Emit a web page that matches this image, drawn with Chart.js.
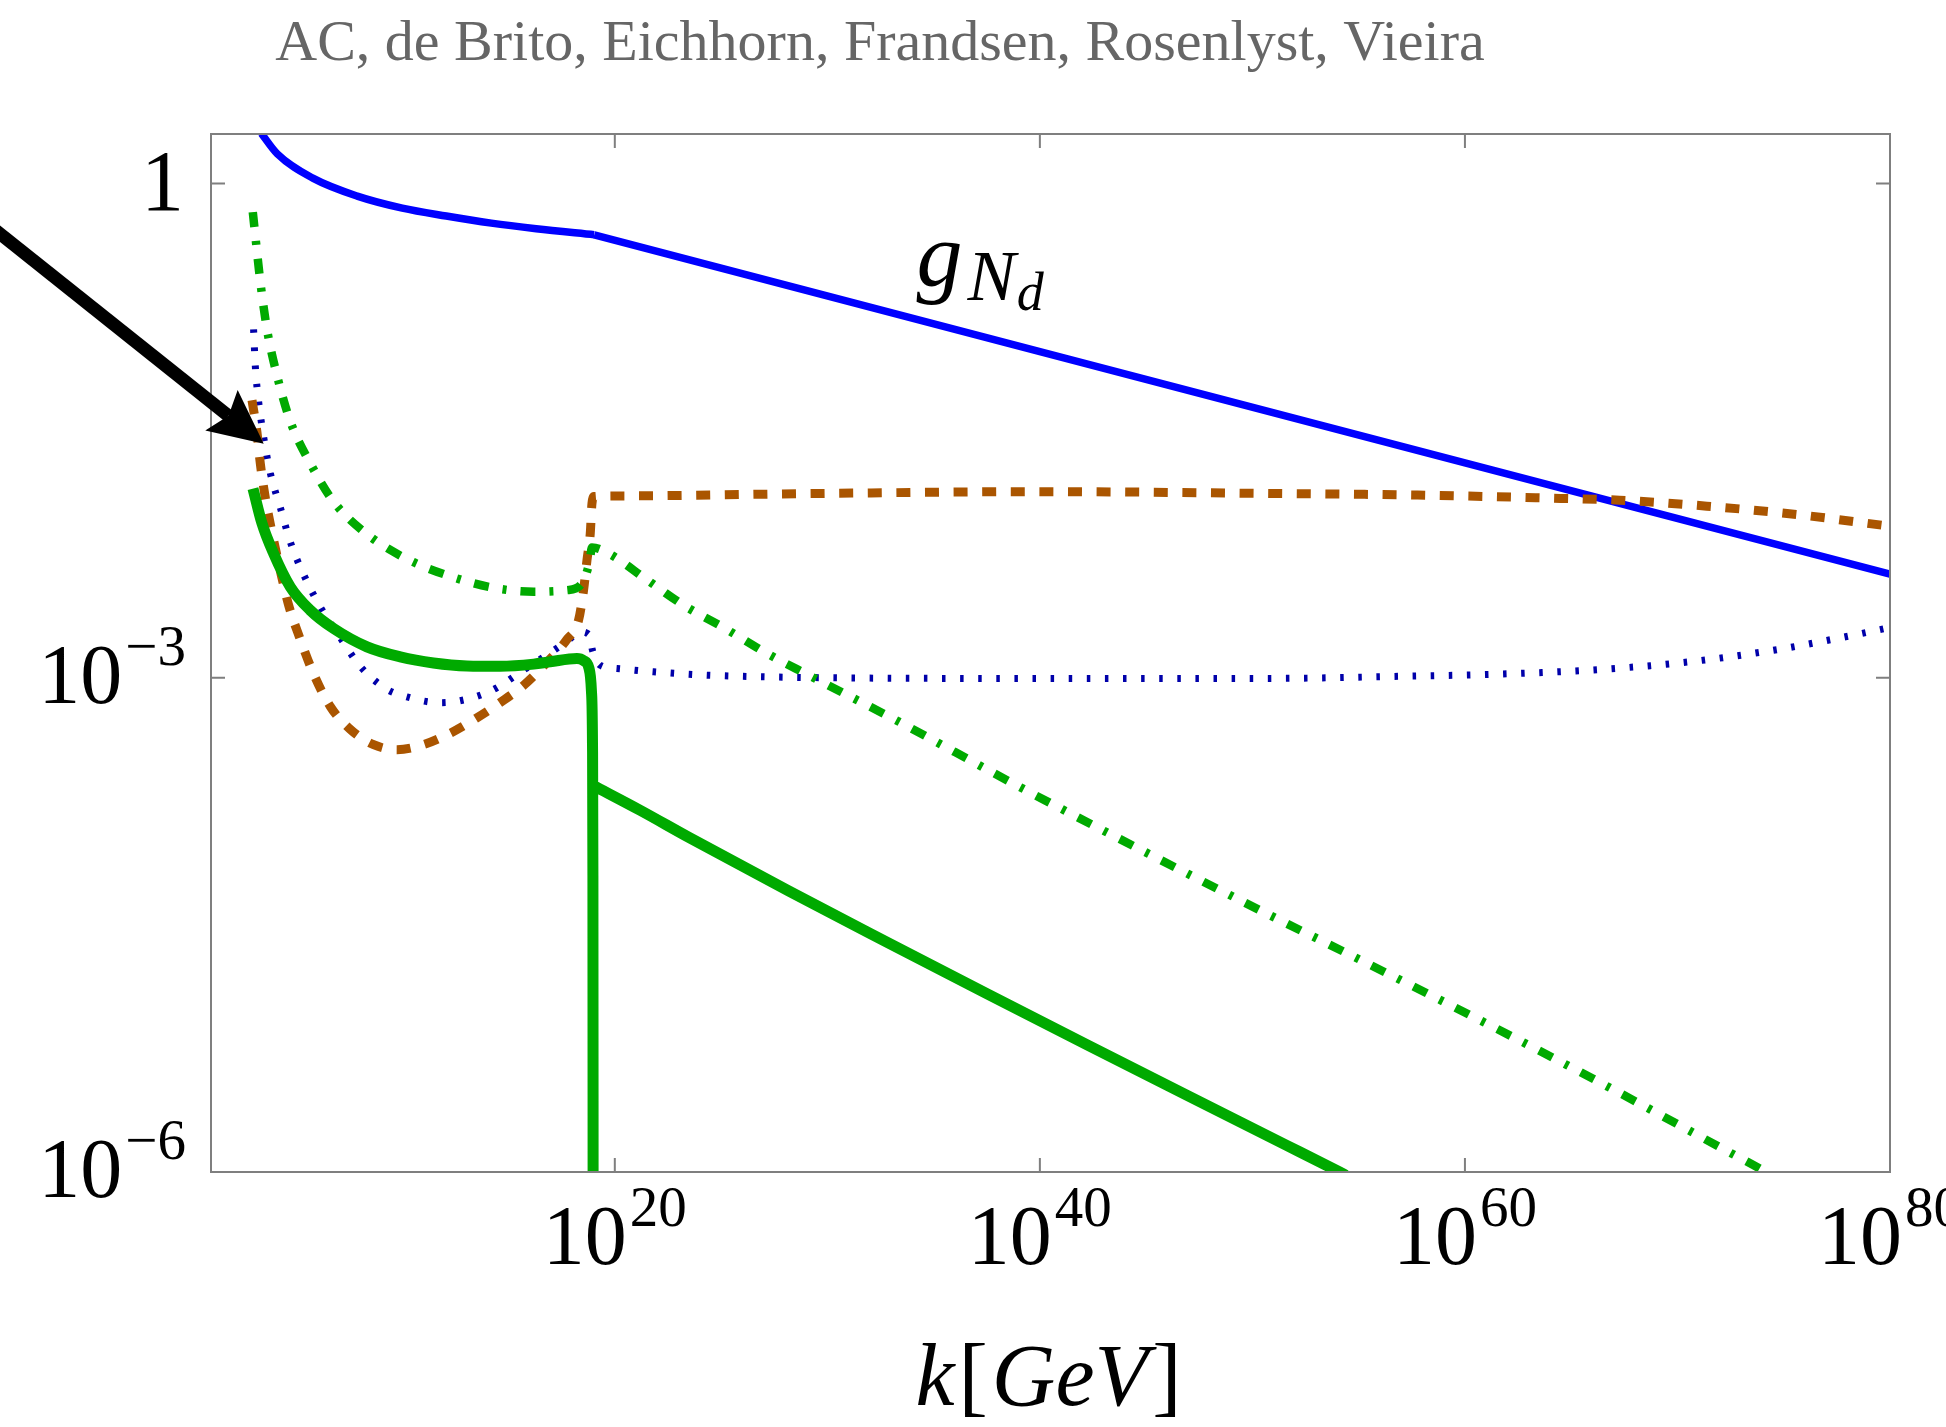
<!DOCTYPE html>
<html>
<head>
<meta charset="utf-8">
<script src="https://cdn.jsdelivr.net/npm/chart.js@4.4.1/dist/chart.umd.min.js"></script>
<style>
  html, body { margin: 0; padding: 0; background: #fff; }
  #wrap { width: 1946px; height: 1427px; }
</style>
</head>
<body>
<div id="wrap"><canvas id="chart"></canvas></div>
<script>
// every value below is a log10 exponent:
// x = log10(k / GeV), y = log10(coupling)
const xTicks = [20, 40, 60, 80]
const yTicks = [0, -3, -6]

// g_Nd, solid blue (curved up to the kink, straight after it)
const gNdX = [3.37, 4.12, 5.79, 7.88, 10.0, 12.07, 14.19, 16.3, 19.03, 40, 60, 80]
const gNdY = [0.304, 0.18, 0.033, -0.076, -0.149, -0.197, -0.240, -0.274, -0.311, -1.02, -1.695, -2.371]
const gNdKink = 8

// dotted dark blue
const dotX = [3.004, 3.084, 3.240, 3.475, 3.790, 4.260, 4.731, 5.357, 6.142, 7.083, 8.024, 9.280, 10.22, 11.71, 12.57, 14.14, 15.71, 16.96, 17.75, 18.375, 18.765, 18.97, 19.316, 20.10, 21.82, 24.34, 28.88, 39.36, 50.51, 57.36, 61.55, 66.30, 70.56, 74.74, 77.28, 80.0]
const dotY = [-0.885, -1.106, -1.322, -1.536, -1.757, -1.966, -2.175, -2.373, -2.570, -2.756, -2.931, -3.070, -3.116, -3.151, -3.143, -3.081, -2.953, -2.848, -2.779, -2.721, -2.735, -2.843, -2.924, -2.944, -2.964, -2.984, -2.998, -3.004, -3.004, -2.990, -2.978, -2.950, -2.903, -2.828, -2.767, -2.695]

// dashed brown
const dashX = [2.929, 3.164, 3.319, 3.555, 3.870, 4.260, 4.651, 5.201, 5.827, 6.613, 7.554, 8.650, 9.751, 11.00, 12.26, 13.51, 14.61, 15.71, 16.81, 17.75, 18.295, 18.53, 18.69, 18.845, 18.925, 19.03, 20.10, 29.67, 40.02, 50.93, 57.77, 64.50, 67.28, 71.38, 75.48, 80.0]
const dashY = [-1.315, -1.512, -1.698, -1.907, -2.117, -2.349, -2.558, -2.767, -2.976, -3.174, -3.313, -3.406, -3.437, -3.406, -3.336, -3.243, -3.150, -3.046, -2.906, -2.767, -2.650, -2.468, -2.286, -2.124, -1.942, -1.900, -1.896, -1.881, -1.870, -1.881, -1.891, -1.911, -1.922, -1.958, -2.007, -2.080]

// dash-dotted green
const ddX = [2.967, 3.084, 3.319, 3.635, 4.105, 4.731, 5.672, 6.768, 8.339, 10.22, 12.26, 14.30, 16.18, 17.75, 18.455, 18.81, 18.925, 19.706, 21.53, 23.235, 25.196, 27.158, 29.116, 33.077, 38.746, 44.627, 50.508, 54.474, 60.567, 66.448, 72.118, 74.01, 74.5]
const ddY = [-0.173, -0.316, -0.594, -0.885, -1.164, -1.443, -1.698, -1.931, -2.128, -2.279, -2.384, -2.454, -2.477, -2.468, -2.427, -2.296, -2.209, -2.245, -2.407, -2.559, -2.701, -2.852, -2.984, -3.247, -3.642, -4.036, -4.421, -4.674, -5.069, -5.463, -5.858, -5.99, -6.03]

// thick solid green (null = break in the line)
const thickX = [2.976, 3.40, 3.945, 4.73, 5.67, 6.77, 8.34, 9.906, 11.47, 13.04, 14.61, 16.18, 16.96, 18.22, 18.55, 18.78, 18.9, 18.95, 18.97, 18.98, 18.99, 19.0, 21.19, 23.53, 28.2, 32.89, 37.57, 42.25, 46.93, 51.61, 54.1, 54.4]
const thickY = [-1.851, -2.063, -2.245, -2.448, -2.590, -2.701, -2.812, -2.873, -2.910, -2.928, -2.930, -2.917, -2.903, -2.883, -2.897, -2.94, -3.08, -3.4, -4.2, -6.3, null, -3.655, -3.804, -3.972, -4.295, -4.610, -4.922, -5.230, -5.535, -5.838, -6.0, -6.02]

// arrow annotation, tail and tip (same log units)
const arrowFrom = [-9.5, -0.246]
const arrowTo = [3.48, -1.580]
const labelAt = [34.2, -0.62]

function pts(xs, ys) {
  return xs.map((v, i) => ({ x: 10 ** v, y: ys[i] === null ? null : 10 ** ys[i] }))
}

const serif = '"Liberation Serif", "DejaVu Serif", serif'
const frameColor = '#7f7f7f'

function drawPow(ctx, exp, px, baseline, align) {
  const baseFont = `84px ${serif}`
  const expFont = `57px ${serif}`
  ctx.font = baseFont
  const wb = ctx.measureText('10').width
  const es = exp < 0 ? '\u2212' + (-exp) : String(exp)
  ctx.font = expFont
  const we = ctx.measureText(es).width
  const total = wb + 3 + we
  const left = align === 'right' ? px - total : px - total / 2
  ctx.textAlign = 'left'
  ctx.font = baseFont
  ctx.fillText('10', left, baseline)
  ctx.font = expFont
  ctx.fillText(es, left + wb + 3, baseline - 38)
}

const decor = {
  id: 'decor',
  afterDatasetsDraw(chart) {
    const { ctx, chartArea: a, scales: { x, y } } = chart
    const px = (v) => x.getPixelForValue(10 ** v)
    const py = (v) => y.getPixelForValue(10 ** v)
    ctx.save()

    // frame and inward ticks
    ctx.strokeStyle = frameColor
    ctx.lineWidth = 2
    ctx.strokeRect(a.left, a.top, a.right - a.left, a.bottom - a.top)
    ctx.beginPath()
    xTicks.forEach((e) => {
      const p = px(e)
      if (p > a.right - 2) return
      ctx.moveTo(p, a.bottom); ctx.lineTo(p, a.bottom - 14)
      ctx.moveTo(p, a.top); ctx.lineTo(p, a.top + 14)
    })
    yTicks.forEach((e) => {
      const p = py(e)
      if (p > a.bottom - 2) return
      ctx.moveTo(a.left, p); ctx.lineTo(a.left + 14, p)
      ctx.moveTo(a.right, p); ctx.lineTo(a.right - 14, p)
    })
    ctx.stroke()

    // tick labels
    ctx.fillStyle = '#000'
    ctx.textBaseline = 'alphabetic'
    xTicks.forEach((e) => drawPow(ctx, e, px(e), a.bottom + 92, 'center'))
    yTicks.forEach((e) => {
      if (e === 0) {
        ctx.font = `86px ${serif}`
        ctx.textAlign = 'right'
        ctx.fillText('1', a.left - 27, py(e) + 26)
      } else {
        drawPow(ctx, e, a.left - 25, py(e) + 25, 'right')
      }
    })

    // axis title k[GeV]
    const parts = [['k', 'italic '], ['[', ''], ['GeV', 'italic '], [']', '']]
    let w = 0
    parts.forEach((p) => { ctx.font = `${p[1]}88px ${serif}`; w += ctx.measureText(p[0]).width + 4 })
    let cx = (a.left + a.right) / 2 - w / 2
    ctx.textAlign = 'left'
    parts.forEach((p) => {
      ctx.font = `${p[1]}88px ${serif}`
      ctx.fillText(p[0], cx, 1405)
      cx += ctx.measureText(p[0]).width + 4
    })

    // curve label g_{N_d}
    let lx = px(labelAt[0])
    const ly = py(labelAt[1])
    ctx.font = `italic 92px ${serif}`
    ctx.fillText('g', lx, ly)
    lx += ctx.measureText('g').width + 5
    ctx.font = `italic 72px ${serif}`
    ctx.fillText('N', lx, ly + 14)
    lx += ctx.measureText('N').width + 1
    ctx.font = `italic 54px ${serif}`
    ctx.fillText('d', lx, ly + 24)

    // author line
    ctx.font = `58px ${serif}`
    ctx.fillStyle = '#666666'
    ctx.textAlign = 'center'
    ctx.fillText('AC, de Brito, Eichhorn, Frandsen, Rosenlyst, Vieira', 880, 60)

    // black arrow
    const sx = px(arrowFrom[0]), sy = py(arrowFrom[1])
    const tx = px(arrowTo[0]), ty = py(arrowTo[1])
    const len = Math.hypot(tx - sx, ty - sy)
    const ux = (tx - sx) / len, uy = (ty - sy) / len
    const nx = -uy, ny = ux
    const bx = tx - ux * 54, by = ty - uy * 54
    const kx = tx - ux * 45, ky = ty - uy * 45
    ctx.strokeStyle = '#000'
    ctx.lineWidth = 13
    ctx.lineCap = 'butt'
    ctx.beginPath()
    ctx.moveTo(sx, sy)
    ctx.lineTo(kx, ky)
    ctx.stroke()
    ctx.fillStyle = '#000'
    ctx.beginPath()
    ctx.moveTo(tx, ty)
    ctx.lineTo(bx + nx * 26, by + ny * 26)
    ctx.lineTo(kx, ky)
    ctx.lineTo(bx - nx * 26, by - ny * 26)
    ctx.closePath()
    ctx.fill()

    ctx.restore()
  }
}

const gNdCurve = pts(gNdX.slice(0, gNdKink + 1), gNdY.slice(0, gNdKink + 1))
const gNdLine = pts(gNdX.slice(gNdKink), gNdY.slice(gNdKink))

new Chart(document.getElementById('chart'), {
  type: 'line',
  data: {
    datasets: [
      { data: pts(thickX, thickY), borderColor: '#00aa00', borderWidth: 11, order: 1 },
      { data: pts(ddX, ddY), borderColor: '#00aa00', borderWidth: 8.5, borderDash: [15, 14, 4, 14], order: 2 },
      { data: pts(dashX, dashY), borderColor: '#aa5500', borderWidth: 9, borderDash: [14, 14.6], order: 3 },
      { data: pts(dotX, dotY), borderColor: '#0000aa', borderWidth: 7, borderDash: [3.5, 14.6], order: 4 },
      { data: gNdCurve, borderColor: '#0000ff', borderWidth: 7.5, order: 5 },
      { data: gNdLine, borderColor: '#0000ff', borderWidth: 7.5, cubicInterpolationMode: 'default', tension: 0, order: 5 },
    ],
  },
  options: {
    responsive: true,
    maintainAspectRatio: false,
    animation: false,
    events: [],
    layout: { padding: { left: 211, right: 56, top: 134, bottom: 255 } },
    elements: {
      point: { radius: 0 },
      line: { cubicInterpolationMode: 'monotone', borderCapStyle: 'butt', borderJoinStyle: 'round', fill: false },
    },
    scales: {
      x: { type: 'logarithmic', min: 10, max: 1e80, display: false },
      y: { type: 'logarithmic', min: 1e-6, max: 2, display: false },
    },
    plugins: { legend: { display: false }, tooltip: { enabled: false }, title: { display: false } },
  },
  plugins: [decor],
})
</script>
</body>
</html>
